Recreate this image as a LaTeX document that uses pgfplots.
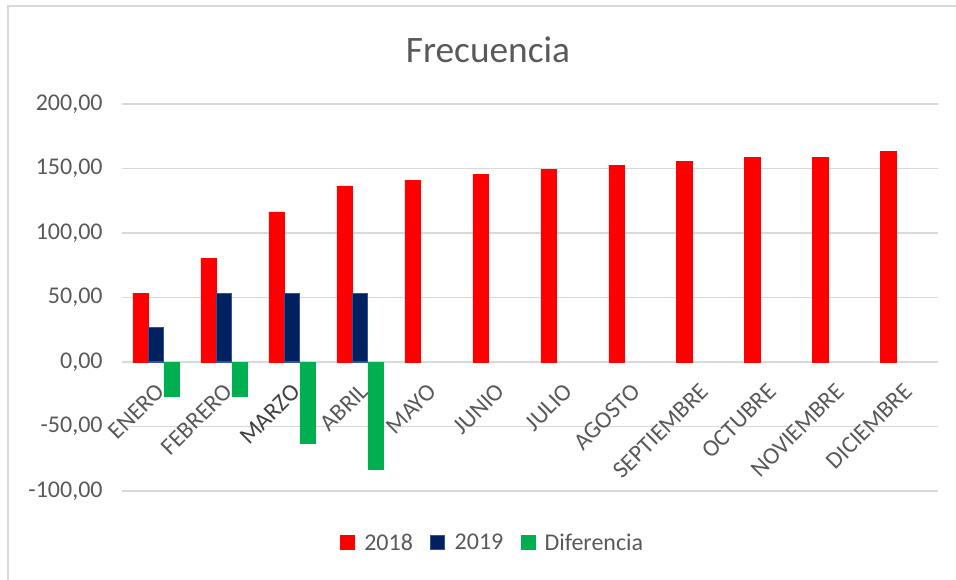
\documentclass[border=0pt]{standalone}
\usepackage{pgfplots}
\pgfplotsset{compat=1.18}
\usepackage{fontspec}
\setmainfont{Carlito}
\definecolor{tickc}{HTML}{595959}
\definecolor{gridc}{HTML}{D9D9D9}
\definecolor{rojo}{HTML}{FF0000}
\definecolor{azul}{HTML}{002060}
\definecolor{azulborde}{HTML}{2F5597}
\definecolor{verde}{HTML}{00B050}
\begin{document}
\begin{tikzpicture}[x=0.75pt,y=0.75pt]
\path[use as bounding box] (0,0) rectangle (956,579);
\draw[gridc, line width=1.2pt] (8,-20) rectangle (990,573);
\node[font=\fontsize{28}{32}\selectfont, text=tickc] at (488,529) {Frecuencia};
\begin{axis}[
  at={(91.5pt,66pt)}, anchor=south west,
  scale only axis, width=611.8pt, height=290.25pt,
  xmin=-0.5, xmax=11.5, ymin=-100, ymax=200,
  axis line style={draw=none},
  major tick length=0pt,
  tick style={draw=none},
  ymajorgrids, grid style={gridc, line width=1pt},
  ytick={-100,-50,0,50,100,150,200},
  xtick={0,...,11},
  xticklabels={ENERO,FEBRERO,{\color{black!75}MARZO},ABRIL,MAYO,JUNIO,JULIO,AGOSTO,SEPTIEMBRE,OCTUBRE,NOVIEMBRE,DICIEMBRE},
  /pgf/number format/.cd, fixed, fixed zerofill, precision=2, use comma, 1000 sep={}, assume math mode=true,
  /pgfplots/.cd,
  yticklabel style={font=\fontsize{18}{20}\selectfont, text=tickc, xshift=-11pt},
  xticklabel style={font=\fontsize{18}{20}\selectfont, text=tickc, yshift=80pt, xshift=5.7pt, rotate=45, anchor=east},
  ybar, bar width=11.4pt,
  legend style={at={(0.455,-0.134)}, anchor=center, draw=none, fill=none,
    font=\fontsize{18}{20}\selectfont, text=tickc,
    legend columns=3,
    /tikz/every odd column/.append style={column sep=5pt},
    /tikz/every even column/.append style={column sep=11pt}},
]
\addplot[fill=rojo, draw=rojo, bar shift=-11.6pt,
  legend image code/.code={\draw[fill=rojo,draw=rojo] (0pt,-5pt) rectangle (10.5pt,5.5pt);}]
  coordinates {(0,53.4) (1,80.3) (2,116.3) (3,136.5) (4,140.9) (5,145.5) (6,149.4) (7,152.5) (8,155.6) (9,158.7) (10,158.7) (11,163.4)};
\addplot[fill=azul, draw=azulborde, line width=0.8pt, bar shift=0pt,
  legend image code/.code={\draw[fill=azul,draw=azulborde,line width=0.8pt] (0pt,-5pt) rectangle (10.5pt,5.5pt);}]
  coordinates {(0,26.7) (1,53.4) (2,53.4) (3,53.4)};
\addplot[fill=verde, draw=verde, bar shift=11.6pt,
  legend image code/.code={\draw[fill=verde,draw=verde] (0pt,-5pt) rectangle (10.5pt,5.5pt);}]
  coordinates {(0,-26.7) (1,-26.9) (2,-62.9) (3,-83.1)};
\legend{2018,2019,Diferencia}
\end{axis}
\end{tikzpicture}
\end{document}
